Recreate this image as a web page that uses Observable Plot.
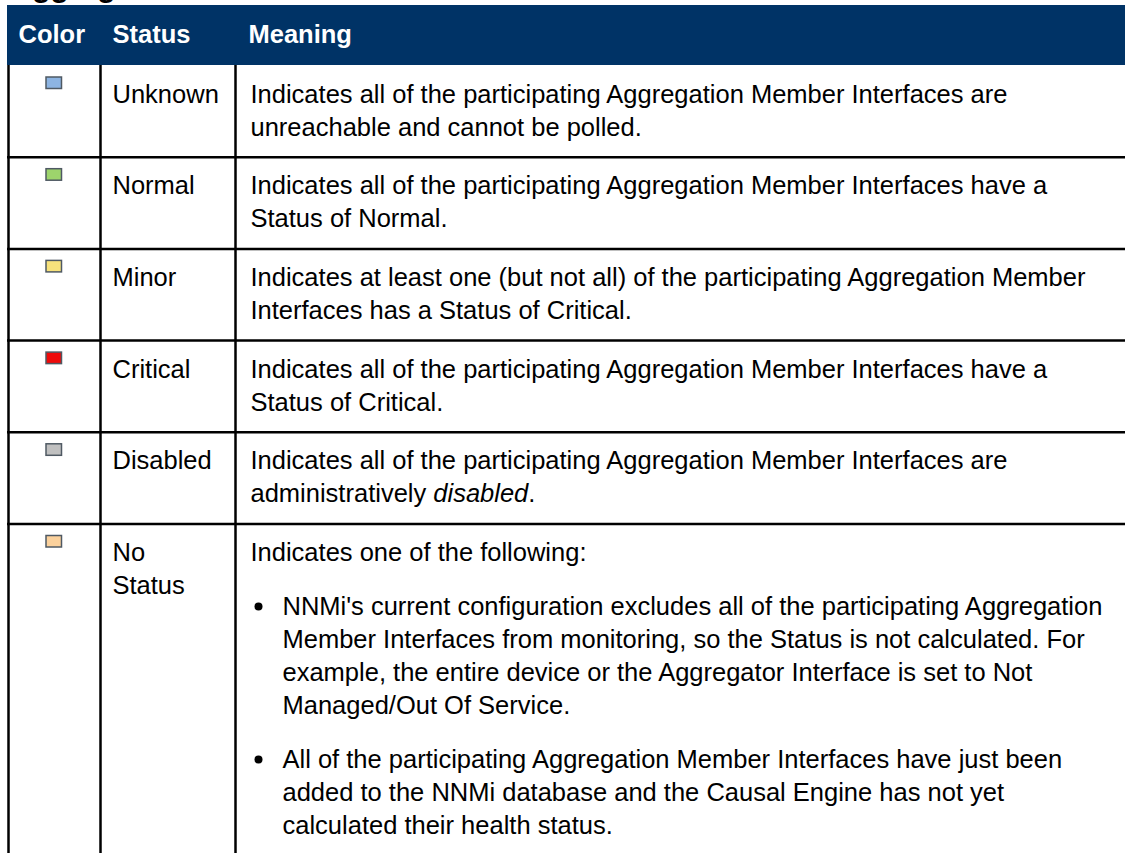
<!DOCTYPE html>
<html>
<head>
<meta charset="utf-8">
<script src="https://cdn.jsdelivr.net/npm/d3@7"></script>
<script src="https://cdn.jsdelivr.net/npm/@observablehq/plot@0.6"></script>
<style>
html, body { margin: 0; padding: 0; background: #fff; }
#chart { width: 1125px; height: 853px; overflow: hidden; }
</style>
</head>
<body>
<div id="chart"></div>
<script>
// ---------- data ----------
const title = "Aggregator Interface Status";
const headers = ["Color", "Status", "Meaning"];
const statuses = ["Unknown", "Normal", "Minor", "Critical", "Disabled", "No Status"];
const swatchColors = ["#8db4e2", "#9dd46c", "#f7e27c", "#ee0a0a", "#c0c0c0", "#fbd19c"];
const meanings = [
  ["Indicates all of the participating Aggregation Member Interfaces are", "unreachable and cannot be polled."],
  ["Indicates all of the participating Aggregation Member Interfaces have a", "Status of Normal."],
  ["Indicates at least one (but not all) of the participating Aggregation Member", "Interfaces has a Status of Critical."],
  ["Indicates all of the participating Aggregation Member Interfaces have a", "Status of Critical."],
  ["Indicates all of the participating Aggregation Member Interfaces are", "administratively *disabled*."],
  ["Indicates one of the following:"]
];
const bulletStatus = "No Status";
const bulletPoints = [
  ["NNMi's current configuration excludes all of the participating Aggregation",
   "Member Interfaces from monitoring, so the Status is not calculated. For",
   "example, the entire device or the Aggregator Interface is set to Not",
   "Managed/Out Of Service."],
  ["All of the participating Aggregation Member Interfaces have just been",
   "added to the NNMi database and the Causal Engine has not yet",
   "calculated their health status."]
];

// ---------- layout ----------
const W = 1125, H = 853;
const FONT = '"Liberation Sans", Arial, Helvetica, sans-serif';
const FS = 25.5;             // body font size
const LINE = 33;             // line step
const PARA = 21;             // extra gap between paragraphs
const FIRST = 37;            // row top -> first baseline
const BOTTOM = 21.7;         // last baseline -> row bottom
const headTop = 5, headBottom = 65;
const borderX = [8, 100, 235];
const headX = [18, 112, 248];
const statusX = 112, meaningX = 250, bulletX = 258, bulletTextX = 282;
const statusMax = 105;

const ctx = document.createElement("canvas").getContext("2d");
function measure(t, style) {
  ctx.font = `${style || ""} ${FS}px ${FONT}`;
  return ctx.measureText(t).width;
}
function wrap(text, maxW) {
  const words = text.split(" ");
  const lines = [];
  let cur = "";
  for (const w of words) {
    const t = cur ? cur + " " + w : w;
    if (cur && measure(t) > maxW) { lines.push(cur); cur = w; } else cur = t;
  }
  if (cur) lines.push(cur);
  return lines;
}

const plainText = [], italicText = [], swatches = [], separators = [], bulletDots = [];
function pushLine(line, x, y) {
  const parts = line.split(/(\*[^*]+\*)/).filter(p => p.length);
  let cx = x;
  for (const p of parts) {
    if (p.startsWith("*")) {
      const t = p.slice(1, -1);
      italicText.push({x: cx, y, text: t});
      cx += measure(t, "italic");
    } else {
      plainText.push({x: cx, y, text: p});
      cx += measure(p);
    }
  }
}

let rowTop = headBottom;
statuses.forEach((s, i) => {
  const base = rowTop + FIRST;
  const cx = (borderX[0] + borderX[1]) / 2;
  swatches.push({x1: cx - 8, x2: cx + 7.5, y1: rowTop + 12, y2: rowTop + 23.5, color: swatchColors[i]});
  wrap(s, statusMax).forEach((l, k) => plainText.push({x: statusX, y: base + k * LINE, text: l}));
  let y = base;
  meanings[i].forEach((l, k) => { if (k) y += LINE; pushLine(l, meaningX, y); });
  if (s === bulletStatus) {
    bulletPoints.forEach(bp => {
      y += LINE + PARA;
      bulletDots.push({x: bulletX, y: y - 8.5});
      bp.forEach((l, k) => { if (k) y += LINE; pushLine(l, bulletTextX, y); });
    });
  }
  rowTop = y + BOTTOM;
  separators.push(rowTop);
});

const headerText = headers.map((h, i) => ({x: headX[i], y: 42.7, text: h}));

const chart = Plot.plot({
  width: W,
  height: H,
  margin: 0,
  x: {domain: [0, W], range: [0, W], axis: null},
  y: {domain: [0, H], range: [0, H], axis: null},
  style: {fontFamily: FONT, background: "#fff", color: "#000"},
  marks: [
    Plot.text([title], {x: 10, y: -3.5, text: d => d, textAnchor: "start", lineAnchor: "bottom", fontSize: 30, fontWeight: "bold", fill: "#000"}),
    Plot.rect([0], {x1: 7, x2: W, y1: headTop, y2: headBottom, fill: "#003366"}),
    Plot.text(headerText, {x: "x", y: "y", text: "text", textAnchor: "start", lineAnchor: "bottom", fontSize: FS, fontWeight: "bold", fill: "#fff"}),
    Plot.ruleY(separators, {y: d => d, x1: 7, x2: W, stroke: "#000", strokeWidth: 2.5}),
    Plot.ruleX(borderX, {x: d => d, y1: headBottom, y2: H, stroke: "#000", strokeWidth: 2.5}),
    Plot.rect(swatches, {x1: "x1", x2: "x2", y1: "y1", y2: "y2", fill: "color", stroke: "#4f5963", strokeWidth: 1.5}),
    Plot.text(plainText, {x: "x", y: "y", text: "text", textAnchor: "start", lineAnchor: "bottom", fontSize: FS, fill: "#000"}),
    Plot.text(italicText, {x: "x", y: "y", text: "text", textAnchor: "start", lineAnchor: "bottom", fontSize: FS, fontStyle: "italic", fill: "#000"}),
    Plot.dot(bulletDots, {x: "x", y: "y", r: 4, fill: "#000", stroke: "none"})
  ]
});
document.getElementById("chart").appendChild(chart);
</script>
</body>
</html>
